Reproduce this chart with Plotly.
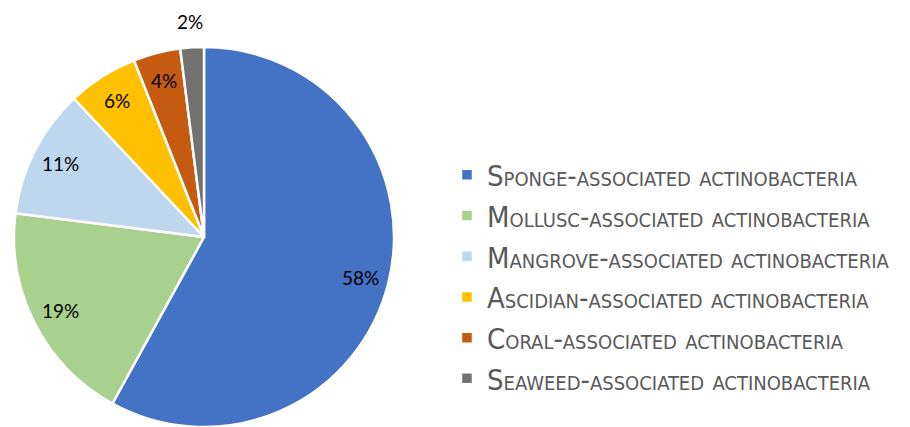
import math
import plotly.graph_objects as go

categories = ["Sponge", "Mollusc", "Mangrove", "Ascidian", "Coral", "Seaweed"]
values = [58, 19, 11, 6, 4, 2]
colors = ["#4472C4", "#A9D18E", "#BDD7EE", "#FFC000", "#C55A11", "#767171"]
outside = [False, False, False, False, False, True]

labels = [f"{c}-associated actinobacteria" for c in categories]

W, H = 910, 427
cx, cy, r = 204, 237, 190

fig = go.Figure(go.Pie(
    labels=labels,
    values=values,
    sort=False,
    direction="clockwise",
    rotation=0,
    marker=dict(colors=colors, line=dict(color="white", width=2.5)),
    textinfo="none",
    domain=dict(x=[(cx - r) / W, (cx + r) / W], y=[(H - cy - r) / H, (H - cy + r) / H]),
    hoverinfo="skip",
))

# percentage labels placed along each slice's bisector (derived from the values)
total = sum(values)
cum = 0
for v, out in zip(values, outside):
    mid = (cum + v / 2) / total * 2 * math.pi
    cum += v
    dist = r + 26 if out else 0.85 * r
    px = cx + dist * math.sin(mid)
    py = cy - dist * math.cos(mid)
    fig.add_annotation(
        x=px / W, y=1 - py / H, xref="paper", yref="paper",
        text=f"{round(v / total * 100)}%", showarrow=False,
        font=dict(family="Lato", size=19, color="black"),
        xanchor="center", yanchor="middle",
    )

fig.update_layout(
    width=W, height=H,
    margin=dict(l=0, r=0, t=0, b=0),
    paper_bgcolor="white",
    showlegend=True,
    legend=dict(
        x=447 / W, y=1 - 277 / H, xanchor="left", yanchor="middle",
        font=dict(family="DejaVu Sans Condensed", size=29, color="#595959",
                  variant="small-caps"),
        itemwidth=30,
        traceorder="normal",
    ),
)

fig.write_html("out.html")
